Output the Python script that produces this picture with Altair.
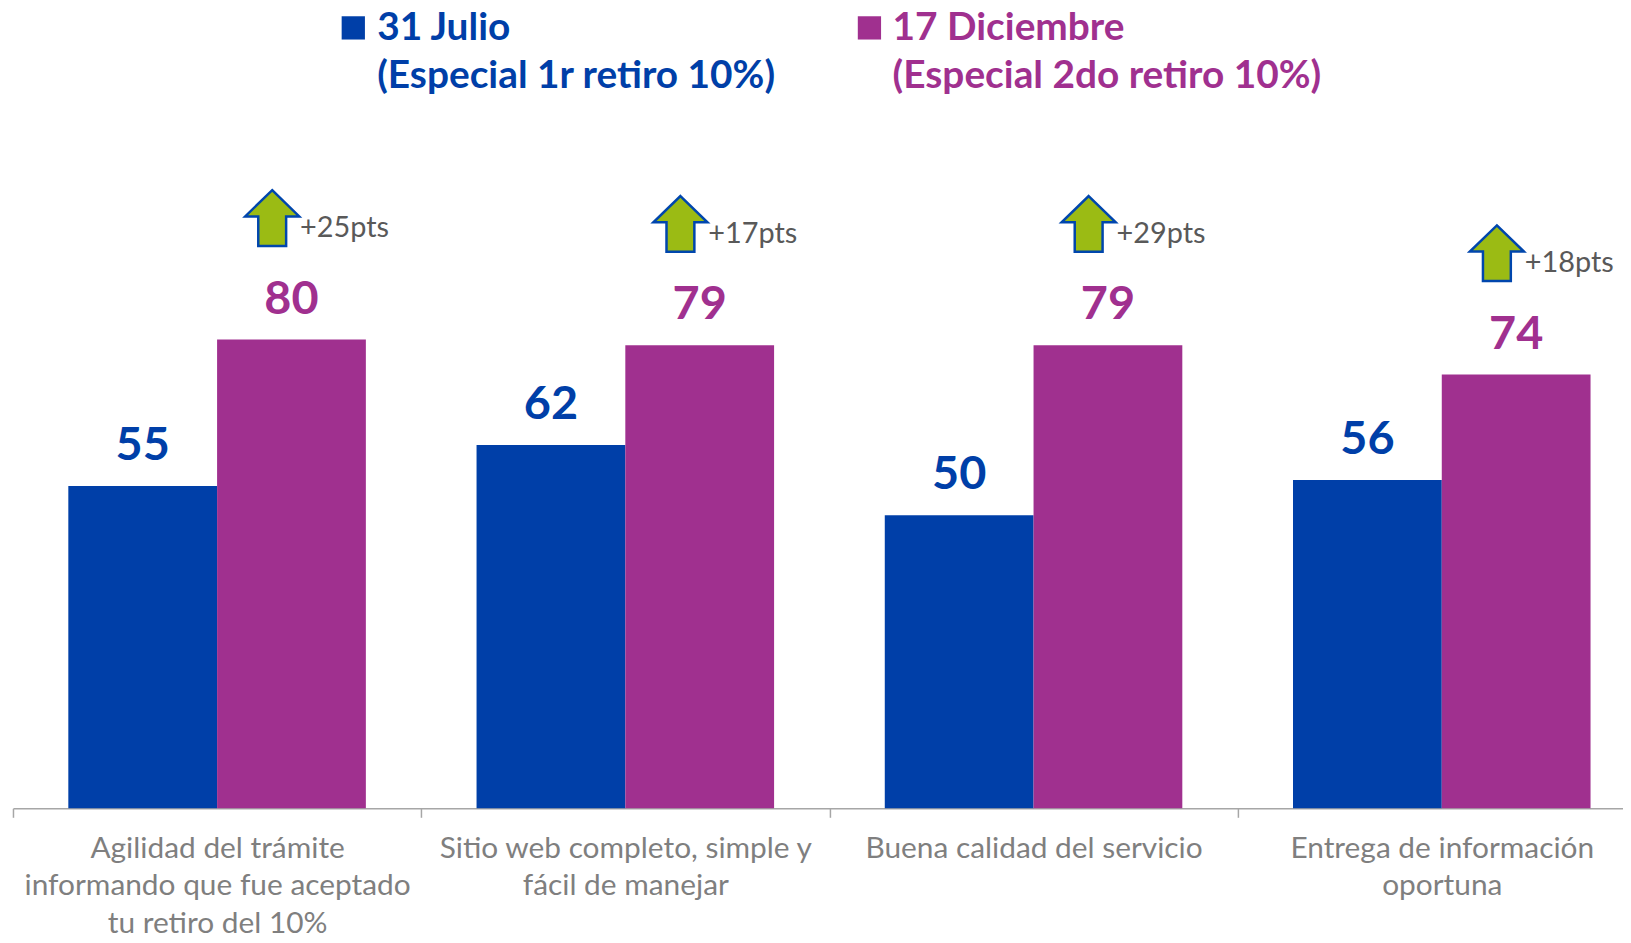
import altair as alt
import pandas as pd

# ---------------- data ----------------
categories = [
    "Agilidad del trámite\ninformando que fue aceptado\ntu retiro del 10%",
    "Sitio web completo, simple y\nfácil de manejar",
    "Buena calidad del servicio",
    "Entrega de información\noportuna",
]
series = ["31 Julio", "17 Diciembre"]
legend_text = ["31 Julio\n(Especial 1r retiro 10%)", "17 Diciembre\n(Especial 2do retiro 10%)"]
julio = [55, 62, 50, 56]
diciembre = [80, 79, 79, 74]
deltas = ["+25pts", "+17pts", "+29pts", "+18pts"]

# ---------------- style ----------------
BLUE = "#003FA8"
PURPLE = "#A0308F"
GREEN = "#9BBB14"
ARROW_EDGE = "#0046AD"
GRAY = "#7F7F7F"
DARKGRAY = "#595959"
AXISGRAY = "#A6A6A6"
FONT = "Lato"
ARROW = "M0,-1 L0.97,-0.06 L0.5,-0.06 L0.5,1 L-0.5,1 L-0.5,-0.06 L-0.97,-0.06 Z"
ARROW_BAND = 0.635  # horizontal placement of the arrow inside its category band

rows = []
for c, a, b in zip(categories, julio, diciembre):
    rows.append({"cat": c, "serie": series[0], "valor": a})
    rows.append({"cat": c, "serie": series[1], "valor": b})
df = pd.DataFrame(rows)
arrows_df = pd.DataFrame({"cat": categories, "valor": diciembre, "delta": deltas})
legend_df = pd.DataFrame({"serie": series, "texto": legend_text})

x_axis = alt.Axis(
    title=None, labelAngle=0, labelExpr="split(datum.label, '\\n')",
    labelFont=FONT, labelFontSize=30, labelColor=GRAY, labelLineHeight=38,
    labelBaseline="alphabetic", labelPadding=40, labelLimit=500, labelOverlap=False,
    tickSize=9, tickColor=AXISGRAY, tickWidth=1.5, domainColor=AXISGRAY, domainWidth=1.5,
    tickBand="extent", grid=False,
)
x_scale = alt.Scale(range=[0, 1641], paddingInner=0, paddingOuter=0)
X = alt.X("cat:N", sort=categories, scale=x_scale, axis=x_axis)
XO = alt.XOffset("serie:N", sort=series, scale=alt.Scale(paddingInner=0, paddingOuter=0.372))
Y = alt.Y("valor:Q", scale=alt.Scale(domain=[0, 100]), axis=None)
COLOR = alt.Color("serie:N", sort=series, scale=alt.Scale(domain=series, range=[BLUE, PURPLE]), legend=None)

base = alt.Chart(df)

bars = base.mark_bar().encode(x=X, xOffset=XO, y=Y, color=COLOR)

values = base.mark_text(font=FONT, fontWeight="bold", fontSize=47, baseline="alphabetic",
                        align="center", dy=-26).encode(
    x=X, xOffset=XO, y=Y, text=alt.Text("valor:Q"), color=COLOR)

XA = alt.X("cat:N", sort=categories, scale=x_scale, axis=x_axis, bandPosition=ARROW_BAND)

arrow_marks = alt.Chart(arrows_df).mark_point(
    shape=ARROW, filled=True, fill=GREEN, stroke=ARROW_EDGE, strokeWidth=2.5,
    size=3136, opacity=1).encode(
    x=XA, y=Y, yOffset=alt.value(-122))

arrow_text = alt.Chart(arrows_df).mark_text(
    font=FONT, fontSize=29, color=DARKGRAY, align="left", baseline="alphabetic",
    dx=28, dy=-103).encode(x=XA, y=Y, text="delta:N")

legend_layers = []
for i, (sq_x, tx_x, col) in enumerate([(342, 366, BLUE), (860.7, 884, PURPLE)]):
    src = alt.Chart(legend_df).transform_filter(alt.datum.serie == series[i])
    legend_layers.append(
        src.mark_square(size=547, color=col, opacity=1).encode(
            x=alt.value(sq_x), y=alt.value(-195.3)))
    legend_layers.append(
        src.mark_text(font=FONT, fontWeight="bold", fontSize=39, color=col, align="left",
                      baseline="alphabetic", lineBreak="\n", lineHeight=48.5).encode(
            x=alt.value(tx_x), y=alt.value(-183.3), text="texto:N"))

chart = alt.layer(bars, values, arrow_marks, arrow_text, *legend_layers).properties(
    width=1618, height=589,
    padding={"left": 5, "top": 213, "right": 0, "bottom": 125},
    autosize=alt.AutoSizeParams(type="none"),
    background="white",
).configure_view(stroke=None)

chart.save("out.html", embed_options={"renderer": "svg", "actions": False})
